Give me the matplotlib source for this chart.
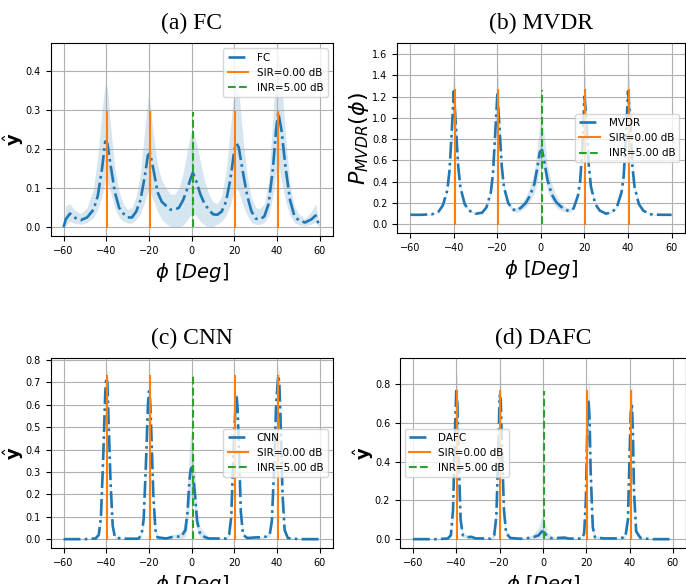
import numpy as np
import matplotlib
matplotlib.use('Agg')
import matplotlib.pyplot as plt

# signal / interference directions and spike heights
sir_angles = [-39.6, -19.6, 20.4, 40.4]
inr_angle = 0.4
spike_h = {'FC': 0.295, 'MVDR': 1.26, 'CNN': 0.73, 'DAFC': 0.765}

# (a) FC spectrum: angle, mean, upper, lower
fc_phi = [-60, -59, -57, -55, -52, -49, -46, -44, -42, -40.5, -39.5, -38, -36, -34, -32, -30, -28, -26,
          -24, -22, -20.5, -19.5, -18, -16, -14, -12, -10, -8, -6, -4, -2, -0.5, 0.5, 2, 4, 6, 8, 10,
          12, 14, 16, 18, 20, 21, 22, 24, 26, 28, 30, 32, 34, 36, 38, 39.5, 40.5, 42, 44, 46, 48, 50,
          53, 56, 58, 60]
fc_mean = [0.000, 0.020, 0.035, 0.025, 0.018, 0.025, 0.045, 0.080, 0.150, 0.220, 0.215, 0.160, 0.090,
           0.050, 0.035, 0.025, 0.025, 0.040, 0.070, 0.130, 0.185, 0.190, 0.150, 0.090, 0.065, 0.055,
           0.045, 0.045, 0.050, 0.070, 0.100, 0.125, 0.140, 0.120, 0.085, 0.060, 0.045, 0.033, 0.032,
           0.040, 0.065, 0.120, 0.200, 0.215, 0.205, 0.140, 0.080, 0.040, 0.022, 0.020, 0.028, 0.060,
           0.150, 0.250, 0.295, 0.250, 0.150, 0.070, 0.030, 0.018, 0.012, 0.020, 0.030, 0.000]
fc_hi = [0.000, 0.055, 0.060, 0.045, 0.035, 0.050, 0.100, 0.180, 0.300, 0.370, 0.360, 0.260, 0.150,
         0.090, 0.060, 0.045, 0.050, 0.080, 0.140, 0.250, 0.335, 0.320, 0.240, 0.160, 0.120, 0.100,
         0.085, 0.085, 0.100, 0.140, 0.200, 0.240, 0.250, 0.220, 0.170, 0.120, 0.085, 0.065, 0.060,
         0.080, 0.140, 0.250, 0.360, 0.380, 0.350, 0.230, 0.130, 0.075, 0.050, 0.048, 0.060, 0.120,
         0.280, 0.410, 0.450, 0.380, 0.230, 0.110, 0.055, 0.035, 0.022, 0.040, 0.060, 0.000]
fc_lo = [0.000, 0.005, 0.015, 0.010, 0.007, 0.012, 0.025, 0.045, 0.080, 0.120, 0.115, 0.090, 0.050,
         0.025, 0.015, 0.010, 0.010, 0.020, 0.035, 0.065, 0.090, 0.090, 0.070, 0.040, 0.020, 0.008,
         0.002, 0.000, 0.000, 0.005, 0.020, 0.030, 0.035, 0.030, 0.015, 0.005, 0.000, 0.002, 0.008,
         0.015, 0.030, 0.055, 0.095, 0.100, 0.090, 0.055, 0.030, 0.012, 0.007, 0.007, 0.012, 0.030,
         0.080, 0.140, 0.160, 0.120, 0.065, 0.030, 0.012, 0.006, 0.003, 0.008, 0.012, 0.000]

# (b) MVDR spectrum
mvdr_phi = [-60, -55, -50, -47, -45, -43, -42, -41, -40, -39, -38, -37, -35, -33, -30, -27, -25, -23,
            -22, -21, -20, -19, -18, -17, -15, -13, -11, -9, -7, -5, -3, -1.5, -0.5, 0.5, 1.5, 3, 5,
            7, 9, 11, 13, 15, 17, 18, 19, 20, 21, 22, 23, 25, 27, 30, 33, 35, 37, 38, 39, 40, 41, 42,
            43, 45, 47, 50, 55, 60]
mvdr_mean = [0.090, 0.090, 0.095, 0.120, 0.180, 0.320, 0.500, 0.850, 1.250, 0.900, 0.550, 0.350,
             0.190, 0.130, 0.100, 0.110, 0.160, 0.300, 0.480, 0.850, 1.220, 0.900, 0.550, 0.350,
             0.200, 0.140, 0.130, 0.160, 0.200, 0.270, 0.380, 0.550, 0.680, 0.700, 0.600, 0.420,
             0.280, 0.210, 0.170, 0.140, 0.125, 0.150, 0.270, 0.400, 0.700, 1.200, 0.950, 0.550,
             0.350, 0.190, 0.130, 0.100, 0.120, 0.170, 0.300, 0.450, 0.800, 1.250, 1.000, 0.550,
             0.350, 0.190, 0.130, 0.095, 0.090, 0.090]
mvdr_hi = [0.095, 0.095, 0.100, 0.125, 0.190, 0.340, 0.540, 0.950, 1.600, 1.050, 0.600, 0.380,
           0.200, 0.140, 0.110, 0.120, 0.170, 0.320, 0.520, 0.950, 1.580, 1.050, 0.600, 0.380,
           0.220, 0.160, 0.160, 0.200, 0.260, 0.350, 0.500, 0.750, 0.950, 1.000, 0.850, 0.550,
           0.380, 0.270, 0.210, 0.170, 0.150, 0.160, 0.290, 0.430, 0.800, 1.560, 1.100, 0.600,
           0.380, 0.200, 0.140, 0.110, 0.130, 0.180, 0.320, 0.490, 0.900, 1.620, 1.150, 0.600,
           0.380, 0.200, 0.135, 0.100, 0.095, 0.095]
mvdr_lo = [0.085, 0.085, 0.090, 0.115, 0.170, 0.300, 0.460, 0.750, 1.100, 0.800, 0.500, 0.320,
           0.180, 0.120, 0.095, 0.100, 0.150, 0.280, 0.440, 0.750, 1.100, 0.800, 0.500, 0.320,
           0.180, 0.120, 0.110, 0.130, 0.160, 0.210, 0.300, 0.420, 0.550, 0.560, 0.480, 0.320,
           0.220, 0.160, 0.130, 0.120, 0.110, 0.140, 0.250, 0.370, 0.600, 1.050, 0.850, 0.500,
           0.320, 0.180, 0.120, 0.095, 0.110, 0.160, 0.280, 0.410, 0.700, 1.100, 0.880, 0.500,
           0.320, 0.180, 0.125, 0.090, 0.085, 0.085]

# (c) CNN spectrum
cnn_phi = [-60, -50, -45, -43.5, -42.5, -41.5, -40.5, -40, -39.5, -39, -38, -37, -36, -33, -25, -23.5,
           -22.5, -21.5, -20.5, -20, -19.5, -19, -18, -17, -16, -12, -9, -7, -5, -3, -2, -1, -0.5, 0,
           0.5, 1.5, 2.5, 4, 6, 8, 12, 16, 17.5, 18.5, 19.5, 20.5, 21, 21.5, 22, 23, 24, 26, 30, 33,
           35, 36.5, 37.5, 38.5, 39.5, 40.5, 41, 41.5, 42.5, 43.5, 45, 50, 60]
cnn_mean = [0.000, 0.000, 0.003, 0.020, 0.100, 0.350, 0.650, 0.720, 0.700, 0.550, 0.250, 0.060,
            0.010, 0.002, 0.002, 0.020, 0.090, 0.320, 0.600, 0.660, 0.620, 0.500, 0.200, 0.040,
            0.008, 0.003, 0.010, 0.012, 0.010, 0.040, 0.120, 0.270, 0.310, 0.320, 0.300, 0.200,
            0.080, 0.020, 0.010, 0.003, 0.003, 0.003, 0.020, 0.100, 0.380, 0.600, 0.640, 0.580,
            0.420, 0.120, 0.020, 0.005, 0.008, 0.008, 0.012, 0.020, 0.080, 0.300, 0.600, 0.730,
            0.700, 0.560, 0.200, 0.040, 0.005, 0.000, 0.000]
cnn_hi = [0.002, 0.002, 0.006, 0.030, 0.130, 0.400, 0.700, 0.770, 0.740, 0.600, 0.300, 0.080,
          0.015, 0.005, 0.005, 0.030, 0.120, 0.360, 0.640, 0.680, 0.650, 0.540, 0.240, 0.060,
          0.012, 0.006, 0.020, 0.025, 0.030, 0.080, 0.220, 0.420, 0.470, 0.460, 0.420, 0.300,
          0.140, 0.050, 0.030, 0.008, 0.006, 0.006, 0.030, 0.130, 0.420, 0.640, 0.660, 0.620,
          0.460, 0.150, 0.030, 0.010, 0.012, 0.012, 0.018, 0.030, 0.110, 0.340, 0.640, 0.770,
          0.740, 0.600, 0.240, 0.060, 0.010, 0.002, 0.002]
cnn_lo = [0.000, 0.000, 0.000, 0.010, 0.070, 0.300, 0.600, 0.680, 0.650, 0.500, 0.200, 0.040,
          0.005, 0.000, 0.000, 0.010, 0.060, 0.280, 0.560, 0.620, 0.580, 0.460, 0.160, 0.020,
          0.004, 0.000, 0.005, 0.005, 0.002, 0.010, 0.050, 0.150, 0.180, 0.200, 0.190, 0.120,
          0.040, 0.005, 0.000, 0.000, 0.000, 0.000, 0.010, 0.070, 0.340, 0.560, 0.610, 0.540,
          0.380, 0.090, 0.010, 0.000, 0.004, 0.004, 0.008, 0.010, 0.050, 0.260, 0.560, 0.700,
          0.660, 0.520, 0.160, 0.020, 0.000, 0.000, 0.000]

# (d) DAFC spectrum
dafc_phi = [-60, -50, -44, -42.5, -41.5, -40.5, -40, -39.5, -39, -38, -37, -35, -33, -31, -24, -22.5,
            -21.5, -20.5, -20, -19.5, -19, -18, -17, -15, -10, -5, -2, -0.5, 0.5, 2, 4, 10, 12, 18,
            19, 19.8, 20.5, 21, 21.5, 22, 23, 24, 28, 35, 38, 39.2, 40, 40.5, 41, 41.5, 42, 43, 45,
            50, 60]
dafc_mean = [0.000, 0.000, 0.003, 0.020, 0.150, 0.600, 0.770, 0.700, 0.450, 0.100, 0.020, 0.010,
             0.012, 0.004, 0.003, 0.020, 0.120, 0.500, 0.740, 0.720, 0.500, 0.150, 0.030, 0.006,
             0.002, 0.008, 0.020, 0.040, 0.035, 0.015, 0.005, 0.008, 0.003, 0.003, 0.030, 0.200,
             0.600, 0.720, 0.620, 0.350, 0.060, 0.010, 0.004, 0.004, 0.010, 0.100, 0.450, 0.650,
             0.700, 0.550, 0.250, 0.040, 0.006, 0.000, 0.000]
dafc_hi = [0.002, 0.002, 0.006, 0.040, 0.200, 0.700, 0.890, 0.820, 0.540, 0.140, 0.040, 0.020,
           0.020, 0.008, 0.006, 0.040, 0.170, 0.600, 0.880, 0.850, 0.600, 0.200, 0.050, 0.012,
           0.006, 0.020, 0.060, 0.120, 0.100, 0.040, 0.012, 0.015, 0.006, 0.006, 0.050, 0.260,
           0.700, 0.850, 0.740, 0.420, 0.090, 0.020, 0.008, 0.008, 0.020, 0.140, 0.520, 0.760,
           0.800, 0.620, 0.310, 0.060, 0.012, 0.002, 0.002]
dafc_lo = [0.000, 0.000, 0.000, 0.010, 0.100, 0.500, 0.650, 0.600, 0.380, 0.070, 0.010, 0.004,
           0.005, 0.000, 0.000, 0.010, 0.080, 0.420, 0.640, 0.620, 0.420, 0.100, 0.015, 0.002,
           0.000, 0.002, 0.005, 0.010, 0.008, 0.003, 0.000, 0.002, 0.000, 0.000, 0.015, 0.150,
           0.520, 0.620, 0.540, 0.280, 0.030, 0.004, 0.000, 0.000, 0.004, 0.070, 0.400, 0.580,
           0.620, 0.480, 0.200, 0.020, 0.002, 0.000, 0.000]

panels = [
    ('(a) FC', 'FC', fc_phi, fc_mean, fc_hi, fc_lo, r'$\hat{\mathbf{y}}$', 'upper right'),
    ('(b) MVDR', 'MVDR', mvdr_phi, mvdr_mean, mvdr_hi, mvdr_lo, r'$P_{MVDR}(\phi)$', 'center right'),
    ('(c) CNN', 'CNN', cnn_phi, cnn_mean, cnn_hi, cnn_lo, r'$\hat{\mathbf{y}}$', 'center right'),
    ('(d) DAFC', 'DAFC', dafc_phi, dafc_mean, dafc_hi, dafc_lo, r'$\hat{\mathbf{y}}$', 'center left'),
]

# axes rectangles in figure fractions, y-label x offsets (axes fraction) and sizes
rects = [[0.074, 0.596, 0.411, 0.330],
         [0.579, 0.601, 0.419, 0.325],
         [0.074, 0.062, 0.411, 0.325],
         [0.583, 0.062, 0.417, 0.325]]
ylab_x = [-0.089, -0.092, -0.089, -0.084]
ylab_fs = [13, 16, 13, 13]

fig = plt.figure(figsize=(6.86, 5.84), dpi=100)

for (title, name, phi, mean, hi, lo, ylab, loc), r, lx, lfs in zip(panels, rects, ylab_x, ylab_fs):
    ax = fig.add_axes(r)
    h = spike_h[name]
    ax.fill_between(phi, lo, hi, color='C0', alpha=0.18, linewidth=0)
    ax.plot(phi, mean, '-.', color='C0', lw=1.9, label=name)
    for i, a in enumerate(sir_angles):
        ax.plot([a, a], [0, h], color='C1', lw=1.5, label='SIR=0.00 dB' if i == 0 else None)
    ax.plot([inr_angle, inr_angle], [0, h], '--', color='C2', lw=1.5, label='INR=5.00 dB')
    ax.set_xticks([-60, -40, -20, 0, 20, 40, 60])
    ax.tick_params(labelsize=7)
    ax.grid(True)
    ax.set_xlabel(r'$\phi\ [Deg]$', fontsize=14)
    ax.set_ylabel(ylab, fontsize=lfs)
    ax.yaxis.set_label_coords(lx, 0.5)
    ax.set_title(title, fontsize=17, family='Liberation Serif', pad=10)
    ax.legend(loc=loc, fontsize=7.5)

plt.savefig('out.png', dpi=100)
